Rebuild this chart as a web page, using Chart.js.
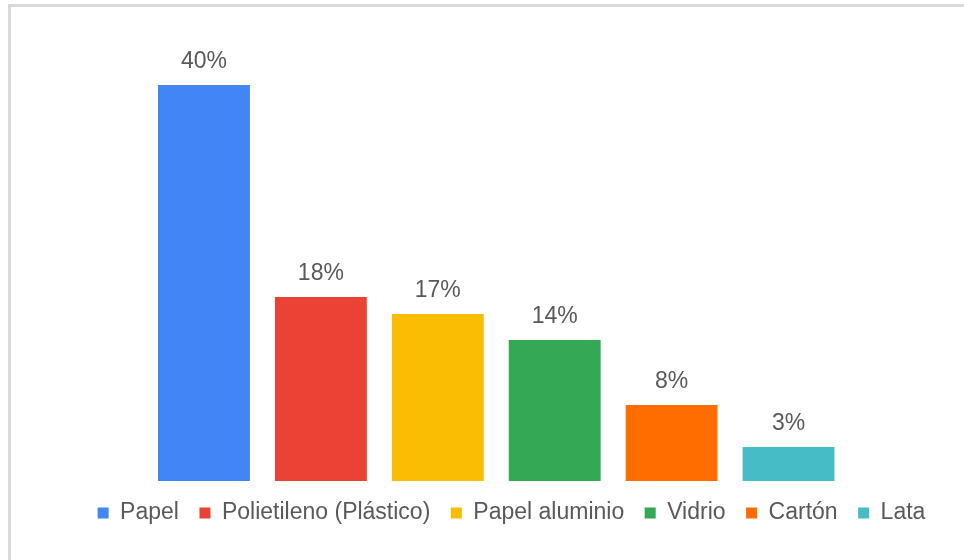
<!DOCTYPE html>
<html>
<head>
<meta charset="utf-8">
<script src="https://cdn.jsdelivr.net/npm/chart.js@4"></script>
<style>
  html, body { margin: 0; padding: 0; background: #fff; overflow: hidden; }
  .frame {
    position: absolute; left: 8px; top: 4px;
    width: 953px; height: 553px;
    border-top: 3px solid #d9d9d9;
    border-left: 3px solid #d9d9d9;
  }
  .frame canvas { display: block; }
</style>
</head>
<body>
<div class="frame"><canvas id="chart" width="953" height="553"></canvas></div>
<script>
const categories = ['Papel', 'Polietileno (Plástico)', 'Papel aluminio', 'Vidrio', 'Cartón', 'Lata'];
const values = [39.6, 18.4, 16.7, 14.1, 7.6, 3.4];
const colors = ['#4285f4', '#ea4335', '#fbbc04', '#34a853', '#ff6d01', '#46bdc6'];

const TEXT = '#595959';
const FONT = '"Liberation Sans", Arial, sans-serif';

// percentage labels above each bar
const barLabels = {
  id: 'barLabels',
  afterDatasetsDraw(chart) {
    const { ctx } = chart;
    const meta = chart.getDatasetMeta(0);
    ctx.save();
    ctx.font = '23px ' + FONT;
    ctx.fillStyle = TEXT;
    ctx.textAlign = 'center';
    ctx.textBaseline = 'alphabetic';
    meta.data.forEach((bar, i) => {
      ctx.fillText(Math.round(values[i]) + '%', bar.x, bar.y - 17);
    });
    ctx.restore();
  },
};

new Chart(document.getElementById('chart'), {
  type: 'bar',
  data: {
    labels: categories,
    datasets: [{
      data: values,
      backgroundColor: colors,
      borderWidth: 0,
      categoryPercentage: 1,
      barPercentage: 0.786,
    }],
  },
  options: {
    responsive: false,
    animation: false,
    layout: { padding: { left: 48, right: 0, top: 24, bottom: 25.5 } },
    scales: {
      x: { display: false },
      y: {
        min: 0, max: 45,
        grid: { display: false },
        border: { display: false },
        ticks: { display: false },
        afterFit: (s) => { s.width = 86.5; },
      },
      y2: {
        position: 'right',
        grid: { display: false },
        border: { display: false },
        ticks: { display: false },
        afterFit: (s) => { s.width = 117; },
      },
    },
    plugins: {
      tooltip: { enabled: false },
      legend: {
        position: 'bottom',
        labels: {
          boxWidth: 11,
          boxHeight: 11,
          padding: 20.5,
          color: TEXT,
          font: { size: 23, family: FONT },
          generateLabels: () => categories.map((c, i) => ({
            text: c,
            fillStyle: colors[i],
            strokeStyle: colors[i],
            lineWidth: 0,
            fontColor: TEXT,
            index: i,
          })),
        },
      },
    },
  },
  plugins: [barLabels],
});
</script>
</body>
</html>
